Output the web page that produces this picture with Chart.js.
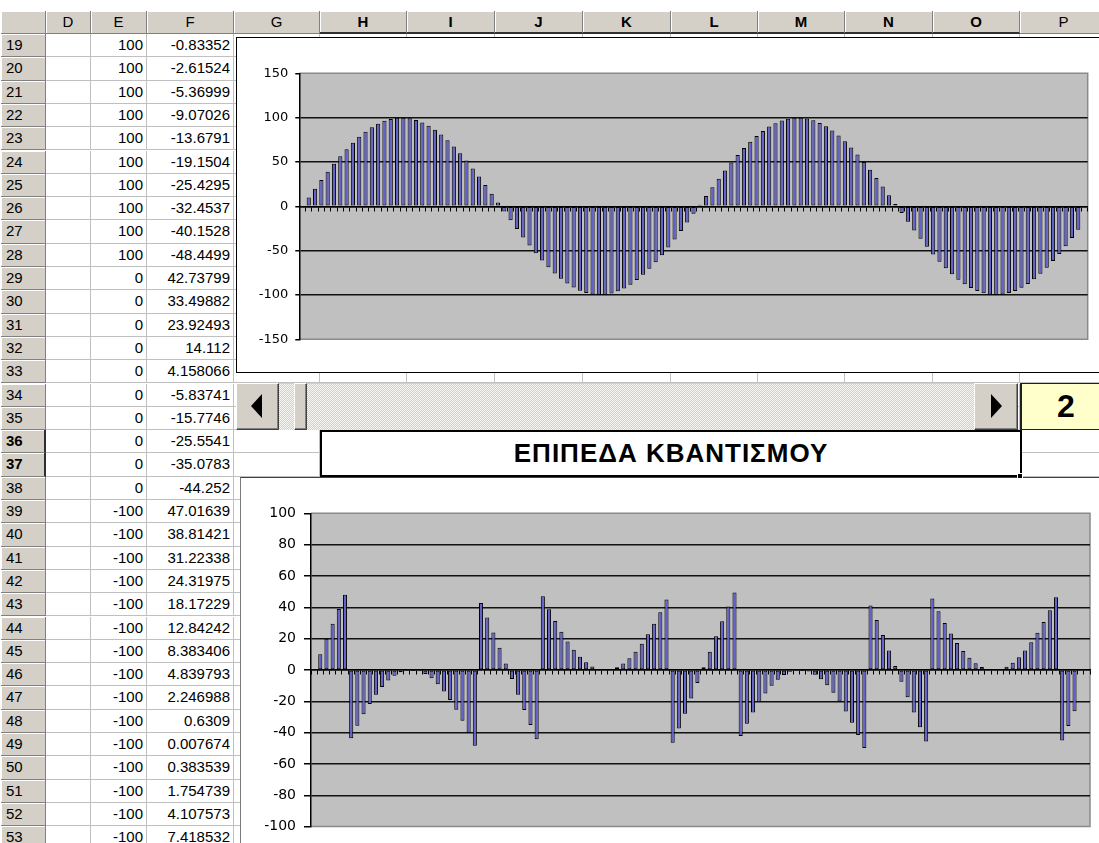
<!DOCTYPE html>
<html lang="el">
<head>
<meta charset="utf-8">
<title>Κβαντισμός σήματος</title>
<script src="https://cdn.jsdelivr.net/npm/chart.js@4.4.1/dist/chart.umd.min.js"></script>
<style>
  html, body { margin: 0; padding: 0; background: #fff; }
  body { width: 1099px; height: 843px; position: relative; overflow: hidden;
         font-family: "Liberation Sans", Arial, sans-serif; color: #000; }
  .box { position: absolute; box-sizing: border-box; }
  .cell { position: absolute; box-sizing: border-box; background: #fff;
          border-right: 1px solid #c0c0c0; border-bottom: 1px solid #c0c0c0;
          font-size: 15px; text-align: right; padding-right: 3px; white-space: nowrap; overflow: hidden; }
  .hdr { position: absolute; box-sizing: border-box; background: #d4d0c8;
         border-right: 1px solid #808080; border-bottom: 1px solid #808080;
         box-shadow: inset 1px 1px 0 #fff; font-size: 15px; white-space: nowrap; overflow: hidden; }
  .colhdr { text-align: center; }
  .rowhdr { text-align: left; padding-left: 5px; }
  .colhdr.sel { font-weight: bold; border-bottom: 2px solid #303030; }
  .rowhdr.sel { font-weight: bold; border-right: 2px solid #303030; }
  .btn { background: #d4d0c8; border: 1px solid; border-color: #fff #404040 #404040 #fff;
         box-shadow: inset -1px -1px 0 #808080; }
  .track { background: repeating-conic-gradient(#d4d0c8 0 25%, #f6f5f1 0 50%) 0 0 / 2px 2px; }
  .triL { position: absolute; width: 0; height: 0; border-top: 12px solid transparent;
          border-bottom: 12px solid transparent; border-right: 11px solid #000; }
  .triR { position: absolute; width: 0; height: 0; border-top: 12px solid transparent;
          border-bottom: 12px solid transparent; border-left: 11px solid #000; }
  canvas { position: absolute; }
</style>
</head>
<body>
<div id="sheet"></div>

<!-- chart objects -->
<div class="box" style="left:236px;top:37px;width:880px;height:336px;border:1px solid #000;background:#fff"></div>
<canvas id="signalChart" width="862" height="333" style="left:237px;top:38px"></canvas>

<div class="box" style="left:240px;top:477px;width:880px;height:380px;border-left:1px solid #7a7a7a;border-top:1px solid #404040;background:#fff"></div>
<canvas id="errorChart" width="858" height="365" style="left:241px;top:478px"></canvas>

<!-- scroll bar control -->
<div class="box track" style="left:236px;top:383px;width:782px;height:47px;border-top:1px solid #d4d0c8"></div>
<div class="box btn" style="left:236px;top:383px;width:43px;height:47px"><div class="triL" style="left:14px;top:10px"></div></div>
<div class="box btn" style="left:294px;top:383px;width:13px;height:47px"></div>
<div class="box btn" style="left:974px;top:383px;width:44px;height:47px"><div class="triR" style="left:16px;top:10px"></div></div>

<!-- level cell -->
<div class="box" id="levelCell" style="left:1020px;top:383px;width:90px;height:47px;background:#ffffcc;border-left:2px solid #202020;border-top:1px solid #202020;border-bottom:1px solid #202020;font-weight:bold;font-size:32px;line-height:44px;text-align:center"></div>

<!-- merged caption cell -->
<div class="box" id="caption" style="left:320px;top:430px;width:702px;height:47px;background:#fff;border:2px solid #000;font-weight:bold;font-size:26px;line-height:43px;text-align:center;letter-spacing:1px"></div>
<div class="box" style="left:1017px;top:473px;width:6px;height:6px;background:#000;border:1px solid #fff"></div>

<script>
// ---- worksheet contents ----
const rowNumbers = [19,20,21,22,23,24,25,26,27,28,29,30,31,32,33,34,35,36,37,38,39,40,41,42,43,44,45,46,47,48,49,50,51,52,53];
const levelColumn = [100,100,100,100,100,100,100,100,100,100,0,0,0,0,0,0,0,0,0,0,
  -100,-100,-100,-100,-100,-100,-100,-100,-100,-100,-100,-100,-100,-100,-100];
const errorColumn = ['-0.83352','-2.61524','-5.36999','-9.07026','-13.6791','-19.1504','-25.4295','-32.4537',
  '-40.1528','-48.4499','42.73799','33.49882','23.92493','14.112','4.158066','-5.83741','-15.7746','-25.5541',
  '-35.0783','-44.252','47.01639','38.81421','31.22338','24.31975','18.17229','12.84242','8.383406','4.839793',
  '2.246988','0.6309','0.007674','0.383539','1.754739','4.107573','7.418532'];
const selectedRows = [36, 37];
const selectedCols = ['H','I','J','K','L','M','N','O'];
const levelCount = 2;
const captionText = 'ΕΠΙΠΕΔΑ ΚΒΑΝΤΙΣΜΟΥ';

// ---- chart series: sampled signal and its quantization error ----
const signalValues = [
  0, 9.98, 19.87, 29.55, 38.94, 47.94, 56.46, 64.42, 71.74, 78.33,
  84.15, 89.12, 93.2, 96.36, 98.54, 99.75, 99.96, 99.17, 97.38, 94.63,
  90.93, 86.32, 80.85, 74.57, 67.55, 59.85, 51.55, 42.74, 33.5, 23.92,
  14.11, 4.16, -5.84, -15.77, -25.55, -35.08, -44.25, -52.98, -61.19, -68.78,
  -75.68, -81.83, -87.16, -91.62, -95.16, -97.75, -99.37, -99.99, -99.62, -98.25,
  -95.89, -92.58, -88.35, -83.23, -77.28, -70.55, -63.13, -55.07, -46.46, -37.39,
  -27.94, -18.22, -8.31, 1.68, 11.65, 21.51, 31.15, 40.49, 49.41, 57.83,
  65.7, 72.9, 79.37, 85.04, 89.87, 93.8, 96.79, 98.82, 99.85, 99.89,
  98.94, 96.99, 94.07, 90.22, 85.46, 79.85, 73.44, 66.3, 58.49, 50.1,
  41.21, 31.91, 22.29, 12.44, 2.48, -7.52, -17.43, -27.18, -36.65, -45.75,
  -54.4, -62.51, -69.99, -76.77, -82.78, -87.97, -92.28, -95.66, -98.09, -99.55,
  -100, -99.46, -97.92, -95.41, -91.91, -87.55, -82.28, -76.2, -69.35, -61.82,
  -53.66, -44.97, -35.82, -26.32, null
];
const errorValues = [
  0, 9.98, 19.87, 29.55, 38.94, 47.94, -43.54, -35.58, -28.26, -21.67,
  -15.85, -10.88, -6.8, -3.64, -1.46, -0.25, -0.04, -0.83, -2.62, -5.37,
  -9.07, -13.68, -19.15, -25.43, -32.45, -40.15, -48.45, 42.74, 33.5, 23.92,
  14.11, 4.16, -5.84, -15.77, -25.55, -35.08, -44.25, 47.02, 38.81, 31.22,
  24.32, 18.17, 12.84, 8.38, 4.84, 2.25, 0.63, 0.01, 0.38, 1.75,
  4.11, 7.42, 11.65, 16.77, 22.72, 29.45, 36.87, 44.93, -46.46, -37.39,
  -27.94, -18.22, -8.31, 1.68, 11.65, 21.51, 31.15, 40.49, 49.41, -42.17,
  -34.3, -27.1, -20.63, -14.96, -10.13, -6.2, -3.21, -1.18, -0.15, -0.11,
  -1.06, -3.01, -5.93, -9.78, -14.54, -20.15, -26.56, -33.7, -41.51, -49.9,
  41.21, 31.91, 22.29, 12.44, 2.48, -7.52, -17.43, -27.18, -36.65, -45.75,
  45.6, 37.49, 30.01, 23.23, 17.22, 12.03, 7.72, 4.34, 1.91, 0.45,
  0, 0.54, 2.08, 4.59, 8.09, 12.45, 17.72, 23.8, 30.65, 38.18,
  46.34, -44.97, -35.82, -26.32, null, null
];
const signalLabels = signalValues.map((_, i) => i + 1);
const errorLabels = errorValues.map((_, i) => i + 1);
const signalTicks = { min: -150, max: 150, step: 50 };
const errorTicks = { min: -100, max: 100, step: 20 };

// ---- worksheet grid ----
const sheet = document.getElementById('sheet');
const HDR_TOP = 11, ROW_TOP = 34, ROW_H = 23.3;
const columns = [['D',46,91],['E',91,147],['F',147,234],['G',234,320],['H',320,407],['I',407,495],
  ['J',495,583],['K',583,671],['L',671,758],['M',758,845],['N',845,933],['O',933,1020],['P',1020,1108]];

function add(cls, x, y, w, h, text) {
  const d = document.createElement('div');
  d.className = cls;
  d.style.left = x + 'px'; d.style.top = y + 'px';
  d.style.width = w + 'px'; d.style.height = h + 'px';
  d.style.lineHeight = (h - 1) + 'px';
  if (text !== undefined) d.textContent = text;
  sheet.appendChild(d);
  return d;
}

add('hdr', 1, HDR_TOP, 45, ROW_TOP - HDR_TOP);
columns.forEach(([id, x0, x1]) => {
  add('hdr colhdr' + (selectedCols.includes(id) ? ' sel' : ''), x0, HDR_TOP, x1 - x0, ROW_TOP - HDR_TOP, id);
});
rowNumbers.forEach((r, i) => {
  const y = ROW_TOP + i * ROW_H;
  add('hdr rowhdr' + (selectedRows.includes(r) ? ' sel' : ''), 1, y, 45, ROW_H, String(r));
  columns.forEach(([id, x0, x1]) => {
    let t = '';
    if (id === 'E') t = String(levelColumn[i]);
    if (id === 'F') t = errorColumn[i];
    add('cell', x0, y, x1 - x0, ROW_H, t);
  });
});
document.getElementById('levelCell').textContent = String(levelCount);
document.getElementById('caption').textContent = captionText;

// ---- charts ----
const plotFrame = {
  id: 'plotFrame',
  beforeDraw(chart) {
    const { ctx, chartArea: a } = chart;
    ctx.save();
    ctx.fillStyle = '#c0c0c0';
    ctx.fillRect(a.left, a.top, a.right - a.left, a.bottom - a.top);
    ctx.strokeStyle = '#8a8a8a';
    ctx.lineWidth = 1.5;
    ctx.beginPath();
    ctx.moveTo(a.left, a.top);
    ctx.lineTo(a.right, a.top);
    ctx.lineTo(a.right, a.bottom);
    ctx.lineTo(a.left, a.bottom);
    ctx.stroke();
    ctx.restore();
  }
};

function columnChart(id, labels, values, t, opt) {
  return new Chart(document.getElementById(id), {
    type: 'bar',
    data: {
      labels,
      datasets: [{
        data: values,
        backgroundColor: '#6262c8',
        borderColor: '#000',
        borderWidth: 1,
        borderSkipped: false,
        categoryPercentage: 1,
        barPercentage: 0.66
      }]
    },
    options: {
      responsive: false,
      animation: false,
      devicePixelRatio: 1,
      layout: { padding: opt.padding },
      plugins: { legend: { display: false }, tooltip: { enabled: false } },
      scales: {
        x: {
          position: { y: 0 },
          ticks: { display: false },
          grid: { drawOnChartArea: false, drawTicks: true, tickLength: 4, color: '#000', lineWidth: 1 },
          border: { display: true, color: '#000', width: 1.5 }
        },
        y: {
          min: t.min, max: t.max,
          ticks: { stepSize: t.step, color: '#000', padding: opt.labelPad,
                   font: { family: 'DejaVu Sans', size: opt.fontSize } },
          grid: {
            color: c => (c.tick && (c.tick.value === t.min || c.tick.value === t.max)) ? 'rgba(0,0,0,0)' : '#111',
            lineWidth: 1.5, tickColor: '#000', tickLength: opt.tickLen
          },
          border: { display: true, color: '#000', width: 1.5 },
          afterFit: s => { s.width = opt.axisWidth; }
        }
      }
    },
    plugins: [plotFrame]
  });
}

columnChart('signalChart', signalLabels, signalValues, signalTicks, {
  padding: { left: 0, right: 11.3, top: 35.3, bottom: 31.7 },
  axisWidth: 62.3, fontSize: 13, labelPad: 7, tickLen: 4
});
columnChart('errorChart', errorLabels, errorValues, errorTicks, {
  padding: { left: 0, right: 9, top: 35.3, bottom: 9.7 },
  axisWidth: 70, fontSize: 14, labelPad: 8, tickLen: 7
});
</script>
</body>
</html>
